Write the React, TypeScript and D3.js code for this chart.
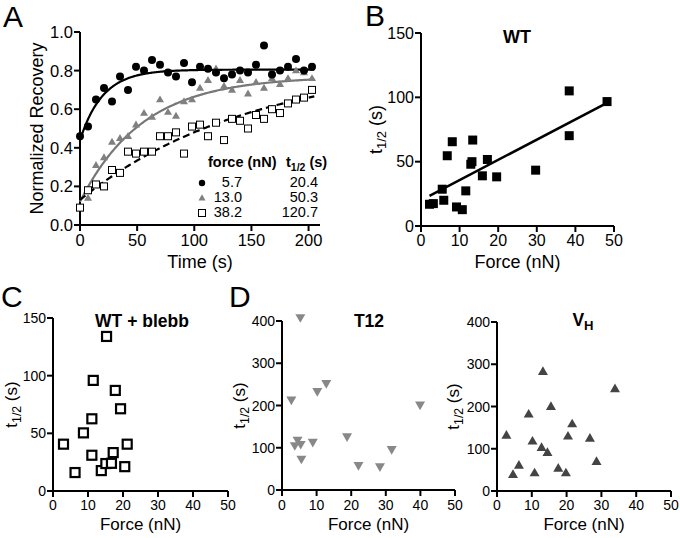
import React from "react";
import * as d3 from "d3";

// ---------- Panel A data ----------
const timeFast = [0, 7, 14, 21, 28, 35, 42, 49, 56, 63, 70, 77, 84, 91, 98, 105, 112, 119, 126, 133, 140, 147, 154, 161, 168, 175, 182, 189, 196, 203];
const recFast = [0.46, 0.51, 0.65, 0.71, 0.64, 0.77, 0.70, 0.82, 0.80, 0.855, 0.83, 0.79, 0.77, 0.84, 0.74, 0.82, 0.81, 0.79, 0.76, 0.78, 0.80, 0.79, 0.83, 0.93, 0.78, 0.80, 0.82, 0.86, 0.80, 0.82];
const timeMid = [7, 14, 21, 28, 35, 42, 49, 56, 63, 70, 77, 84, 91, 98, 105, 112, 119, 126, 133, 140, 147, 154, 161, 168, 175, 182, 189, 196, 203];
const recMid = [0.14, 0.31, 0.35, 0.43, 0.45, 0.46, 0.52, 0.58, 0.56, 0.65, 0.585, 0.565, 0.64, 0.65, 0.71, 0.75, 0.81, 0.72, 0.70, 0.75, 0.68, 0.74, 0.71, 0.76, 0.73, 0.76, 0.80, 0.79, 0.76];
const timeSlow = [0, 7, 14, 21, 28, 35, 42, 49, 56, 63, 70, 77, 84, 91, 98, 105, 112, 119, 126, 133, 140, 147, 154, 161, 168, 175, 182, 189, 196, 203];
const recSlow = [0.09, 0.18, 0.21, 0.20, 0.285, 0.27, 0.38, 0.37, 0.38, 0.38, 0.46, 0.46, 0.48, 0.37, 0.51, 0.52, 0.46, 0.53, 0.44, 0.55, 0.54, 0.50, 0.57, 0.55, 0.60, 0.58, 0.63, 0.65, 0.66, 0.70];
// fitted one-phase recovery curves: start, plateau, time constant
const fitStart = [0.44, 0.12, 0.13];
const fitPlateau = [0.805, 0.77, 0.85];
const fitTau = [20, 55, 150];
const legendForce = ["5.7", "13.0", "38.2"];
const legendHalf = ["20.4", "50.3", "120.7"];
const timeTicks = [0, 50, 100, 150, 200];
const recTicks = [0, 0.2, 0.4, 0.6, 0.8, 1.0];

// ---------- Panel B (WT) ----------
const wtForce = [2.2, 3.2, 5.5, 5.9, 6.8, 8.1, 9.2, 10.7, 11.6, 12.9, 13.2, 13.4, 15.9, 17.2, 19.6, 29.7, 38.4, 38.4, 48.2];
const wtHalf = [16.9, 17.4, 28.6, 20, 54.6, 65.5, 14.8, 12.7, 27.3, 48, 50, 66.8, 39, 51.7, 38.2, 43.4, 105, 70.2, 96.7];

// ---------- Panel C (WT + blebb) ----------
const blebForce = [3.0, 6.3, 8.7, 11.1, 11.1, 11.5, 13.8, 15.1, 15.3, 16.7, 17.2, 17.8, 19.3, 20.5, 21.2];
const blebHalf = [40.6, 16, 50.4, 62.6, 31, 95.9, 17.7, 23.8, 134, 24, 33.3, 87.2, 71.3, 21.1, 40.6];

// ---------- Panel D (T12, VH) ----------
const t12Force = [5.3, 2.7, 10.2, 12.8, 4.5, 3.7, 5.4, 5.6, 8.9, 18.8, 22.1, 28.3, 31.7, 39.9];
const t12Half = [408, 213, 233, 252, 118, 105, 108, 73, 113, 126, 58, 55, 96, 201];
const vhForce = [2.7, 4.6, 6.3, 9.1, 10.2, 10.8, 12.8, 13.2, 14.5, 15.5, 17.6, 19.8, 20.4, 21.6, 26.7, 28.6, 33.9];
const vhHalf = [132, 39, 61, 182, 118, 43, 103, 283, 91, 200, 54, 43, 130, 159, 125, 70, 242];

const forceTicks = [0, 10, 20, 30, 40, 50];
const halfTicks150 = [0, 50, 100, 150];
const halfTicks400 = [0, 100, 200, 300, 400];

const FONT = "'Liberation Sans', Arial, Helvetica, sans-serif";

type AxesProps = {
  xs: d3.ScaleLinear<number, number>;
  ys: d3.ScaleLinear<number, number>;
  xTicks: number[];
  yTicks: number[];
  xFmt?: (v: number) => string;
  yFmt?: (v: number) => string;
  fs: number;
  xLabelY: number;
  xLabel: string;
  yLabelX: number;
  yLabel: React.ReactNode;
  labelFs: number;
  xTickY: number;
};

function Axes(p: AxesProps) {
  const [x0, x1] = p.xs.range();
  const [y0, y1] = p.ys.range();
  const xf = p.xFmt || ((v: number) => String(v));
  const yf = p.yFmt || ((v: number) => String(v));
  return (
    <g fontFamily={FONT}>
      <line x1={x0} x2={x1} y1={y0} y2={y0} stroke="#000" strokeWidth={2} />
      <line x1={x0} x2={x0} y1={y0 + 1} y2={y1} stroke="#000" strokeWidth={2} />
      {p.xTicks.map((t) => (
        <g key={"x" + t}>
          <line x1={p.xs(t)} x2={p.xs(t)} y1={y0} y2={y0 + 6} stroke="#000" strokeWidth={2} />
          <text x={p.xs(t)} y={p.xTickY} fontSize={p.fs} textAnchor="middle">{xf(t)}</text>
        </g>
      ))}
      {p.yTicks.map((t) => (
        <g key={"y" + t}>
          <line x1={x0 - 6} x2={x0} y1={p.ys(t)} y2={p.ys(t)} stroke="#000" strokeWidth={2} />
          <text x={x0 - 7} y={p.ys(t) + p.fs * 0.36} fontSize={p.fs} textAnchor="end">{yf(t)}</text>
        </g>
      ))}
      <text x={(x0 + x1) / 2} y={p.xLabelY} fontSize={p.labelFs} textAnchor="middle">{p.xLabel}</text>
      <text transform={`translate(${p.yLabelX},${(y0 + y1) / 2}) rotate(-90)`} fontSize={p.labelFs} textAnchor="middle">{p.yLabel}</text>
    </g>
  );
}

const halfLabel = (
  <>
    <tspan>t</tspan>
    <tspan dy={4} fontSize="0.72em">1/2</tspan>
    <tspan dy={-4}> (s)</tspan>
  </>
);

function tri(cx: number, cy: number, s: number, up: boolean) {
  const h = s * 0.866;
  if (up) return `M${cx},${cy - h * 0.6} L${cx + s / 2},${cy + h * 0.4} L${cx - s / 2},${cy + h * 0.4} Z`;
  return `M${cx},${cy + h * 0.6} L${cx + s / 2},${cy - h * 0.4} L${cx - s / 2},${cy - h * 0.4} Z`;
}

function PanelA() {
  const xs = d3.scaleLinear().domain([0, 210]).range([80, 320]);
  const ys = d3.scaleLinear().domain([0, 1]).range([225, 32]);
  const tt = d3.range(0, 205.5, 1);
  const curve = (i: number) =>
    d3.line<number>().x((t) => xs(t)).y((t) => ys(fitStart[i] + (fitPlateau[i] - fitStart[i]) * (1 - Math.exp(-t / fitTau[i]))))(tt) || "";
  return (
    <g>
      <text x={3} y={27} fontSize={30} fontFamily={FONT}>A</text>
      <Axes xs={xs} ys={ys} xTicks={timeTicks} yTicks={recTicks} yFmt={(v) => v.toFixed(1)} fs={16.5}
        xTickY={246} xLabelY={268} xLabel="Time (s)" yLabelX={43} yLabel="Normalized Recovery" labelFs={18} />
      <path d={curve(1)} fill="none" stroke="#777" strokeWidth={2.2} />
      <path d={curve(2)} fill="none" stroke="#000" strokeWidth={2.2} strokeDasharray="7,4" />
      <path d={curve(0)} fill="none" stroke="#000" strokeWidth={2.2} />
      {timeSlow.map((t, i) => (
        <rect key={"s" + i} x={xs(t) - 3.5} y={ys(recSlow[i]) - 3.5} width={7} height={7} fill="#fff" stroke="#000" strokeWidth={1} />
      ))}
      {timeMid.map((t, i) => (
        <path key={"m" + i} d={tri(xs(t), ys(recMid[i]), 8, true)} fill="#808080" />
      ))}
      {timeFast.map((t, i) => (
        <circle key={"f" + i} cx={xs(t)} cy={ys(recFast[i])} r={4} fill="#000" />
      ))}
      <g fontFamily={FONT} fontSize={14.5}>
        <text x={208} y={167} fontWeight="bold">force (nN)</text>
        <text x={286} y={167} fontWeight="bold">
          <tspan>t</tspan><tspan dy={4} fontSize="0.72em">1/2</tspan><tspan dy={-4}> (s)</tspan>
        </text>
        {legendForce.map((f, i) => {
          const y = 187 + i * 15;
          return (
            <g key={"l" + i}>
              {i === 0 && <circle cx={202} cy={y - 4} r={3.2} fill="#000" />}
              {i === 1 && <path d={tri(202, y - 4, 7, true)} fill="#808080" />}
              {i === 2 && <rect x={198.5} y={y - 7.5} width={7} height={7} fill="#fff" stroke="#000" strokeWidth={1} />}
              <text x={242} y={y} textAnchor="end">{f}</text>
              <text x={318} y={y} textAnchor="end">{legendHalf[i]}</text>
            </g>
          );
        })}
      </g>
    </g>
  );
}

function PanelB() {
  const xs = d3.scaleLinear().domain([0, 50]).range([421, 614]);
  const ys = d3.scaleLinear().domain([0, 150]).range([226, 33]);
  const mx = d3.mean(wtForce) as number;
  const my = d3.mean(wtHalf) as number;
  let sxy = 0, sxx = 0;
  wtForce.forEach((x, i) => { sxy += (x - mx) * (wtHalf[i] - my); sxx += (x - mx) * (x - mx); });
  const slope = sxy / sxx;
  const icpt = my - slope * mx;
  const xa = d3.min(wtForce) as number, xb = d3.max(wtForce) as number;
  return (
    <g>
      <text x={365} y={26} fontSize={30} fontFamily={FONT}>B</text>
      <Axes xs={xs} ys={ys} xTicks={forceTicks} yTicks={halfTicks150} fs={16}
        xTickY={246} xLabelY={268} xLabel="Force (nN)" yLabelX={382} yLabel={halfLabel} labelFs={18} />
      <text x={517} y={43} fontSize={18} fontWeight="bold" textAnchor="middle" fontFamily={FONT}>WT</text>
      <line x1={xs(xa)} x2={xs(xb)} y1={ys(icpt + slope * xa)} y2={ys(icpt + slope * xb)} stroke="#000" strokeWidth={2.5} />
      {wtForce.map((f, i) => (
        <rect key={i} x={xs(f) - 4.5} y={ys(wtHalf[i]) - 4.5} width={9} height={9} fill="#000" />
      ))}
    </g>
  );
}

function PanelC() {
  const xs = d3.scaleLinear().domain([0, 50]).range([53, 228]);
  const ys = d3.scaleLinear().domain([0, 150]).range([491, 318]);
  return (
    <g>
      <text x={1} y={307} fontSize={30} fontFamily={FONT}>C</text>
      <Axes xs={xs} ys={ys} xTicks={forceTicks} yTicks={halfTicks150} fs={14}
        xTickY={510} xLabelY={530} xLabel="Force (nN)" yLabelX={17} yLabel={halfLabel} labelFs={17} />
      <text x={142} y={327} fontSize={17.5} fontWeight="bold" textAnchor="middle" fontFamily={FONT}>WT + blebb</text>
      {blebForce.map((f, i) => (
        <rect key={i} x={xs(f) - 4.5} y={ys(blebHalf[i]) - 4.5} width={9} height={9} fill="#fff" stroke="#000" strokeWidth={2.2} />
      ))}
    </g>
  );
}

function PanelD() {
  const xs1 = d3.scaleLinear().domain([0, 50]).range([282, 455]);
  const ys1 = d3.scaleLinear().domain([0, 400]).range([490, 321]);
  const xs2 = d3.scaleLinear().domain([0, 50]).range([497, 671]);
  const ys2 = d3.scaleLinear().domain([0, 400]).range([491, 322]);
  return (
    <g>
      <text x={229} y={307} fontSize={30} fontFamily={FONT}>D</text>
      <Axes xs={xs1} ys={ys1} xTicks={forceTicks} yTicks={halfTicks400} fs={14}
        xTickY={510} xLabelY={530} xLabel="Force (nN)" yLabelX={245} yLabel={halfLabel} labelFs={17} />
      <text x={369} y={327} fontSize={17.5} fontWeight="bold" textAnchor="middle" fontFamily={FONT}>T12</text>
      {t12Force.map((f, i) => (
        <path key={i} d={tri(xs1(f), ys1(t12Half[i]), 10, false)} fill="#888" />
      ))}
      <Axes xs={xs2} ys={ys2} xTicks={forceTicks} yTicks={halfTicks400} fs={14}
        xTickY={510} xLabelY={530} xLabel="Force (nN)" yLabelX={459} yLabel={halfLabel} labelFs={17} />
      <text x={583} y={326} fontSize={17.5} fontWeight="bold" textAnchor="middle" fontFamily={FONT}>
        <tspan>V</tspan><tspan dy={4} fontSize="0.75em">H</tspan>
      </text>
      {vhForce.map((f, i) => (
        <path key={i} d={tri(xs2(f), ys2(vhHalf[i]), 10, true)} fill="#444" />
      ))}
    </g>
  );
}

export default function App() {
  return (
    <svg width={680} height={538} style={{ position: "absolute", left: 0, top: 0, background: "#fff" }}>
      <rect width={680} height={538} fill="#fff" />
      <PanelA />
      <PanelB />
      <PanelC />
      <PanelD />
    </svg>
  );
}
